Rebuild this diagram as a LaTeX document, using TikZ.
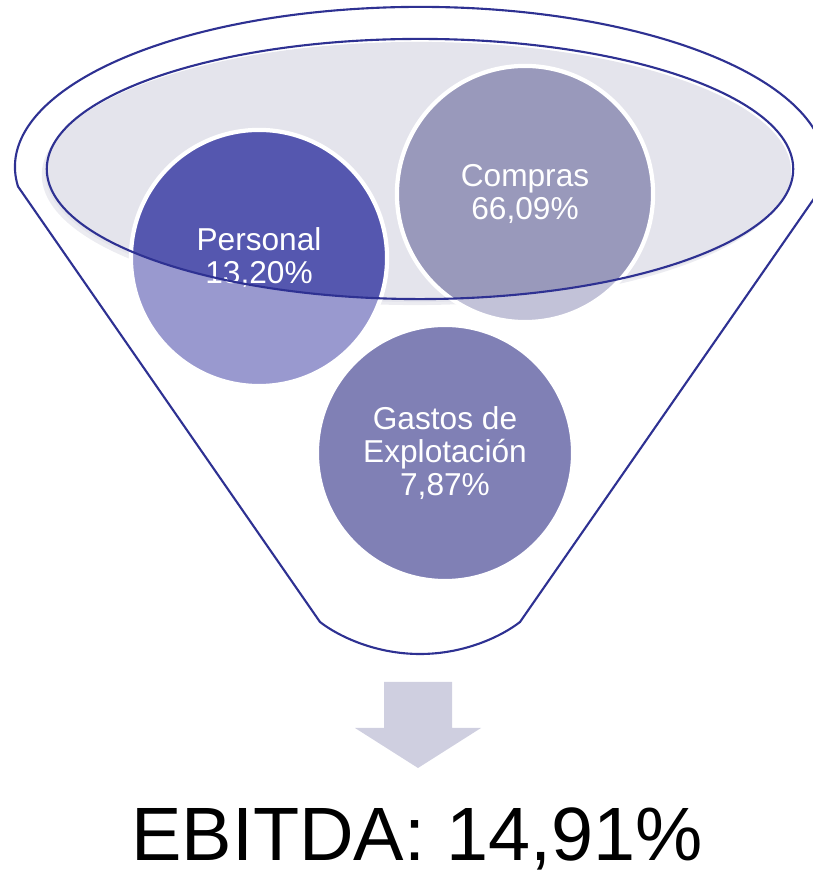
\documentclass[tikz,border=0pt]{standalone}
\usepackage{fontspec}
\setmainfont{Liberation Sans}
\usetikzlibrary{positioning}
\definecolor{funnelblue}{HTML}{2E3192}
\definecolor{rimgray}{HTML}{E4E4EC}
\definecolor{rimshade}{HTML}{ECECF1}
\definecolor{personaldark}{HTML}{5557AF}
\definecolor{personallight}{HTML}{9999CF}
\definecolor{comprasdark}{HTML}{9999BB}
\definecolor{compraslight}{HTML}{C2C2D8}
\definecolor{gastosfill}{HTML}{8080B5}
\definecolor{arrowgray}{HTML}{CFCFE0}

\begin{document}
\begin{tikzpicture}[x=0.01cm,y=0.01cm,
  funnel/.style={draw=funnelblue,line width=0.6pt},
  bubble/.style={circle,draw=white,line width=1.2pt,minimum size=2.56cm,inner sep=0pt,
    text=white,align=center,font=\fontsize{9}{9.4}\selectfont},
  inrim/.style={path picture={\fill[#1] (rim) ellipse[x radius=3.73cm,y radius=1.3cm];}}]
\useasboundingbox (0,0) rectangle (813,873);
\coordinate (rim) at (420,704);
% top of the funnel
\fill[rimshade] (415,698) ellipse[x radius=3.73cm,y radius=1.3cm];
\fill[rimgray] (418,701) ellipse[x radius=3.73cm,y radius=1.3cm];
% the three costs
\node[bubble,fill=personallight,inrim=personaldark] (personal) at (259,615) {Personal\\13,20\%};
\node[bubble,fill=compraslight,inrim=comprasdark] (compras) at (525,679) {Compras\\66,09\%};
\node[bubble,fill=gastosfill] (gastos) at (445,420) {Gastos de\\Explotación\\7,87\%};
% outlines
\draw[funnel] (rim) ellipse[x radius=3.73cm,y radius=1.3cm];
\draw[funnel] (18,686.5) arc[start angle=187,end angle=-7,x radius=4.05cm,y radius=1.6cm]
  -- (520,251) .. controls (502,237) and (465,219) .. (420,219)
  .. controls (375,219) and (338,237) .. (320,251) -- cycle;
% result
\fill[arrowgray] (384,191) -- (452,191) -- (452,145) -- (481,145) -- (418,105)
  -- (355,145) -- (384,145) -- cycle;
\node[anchor=base,font=\fontsize{21.5}{26}\selectfont,inner sep=0pt] (ebitda) at (417,12) {EBITDA: 14,91\%};
\end{tikzpicture}
\end{document}
